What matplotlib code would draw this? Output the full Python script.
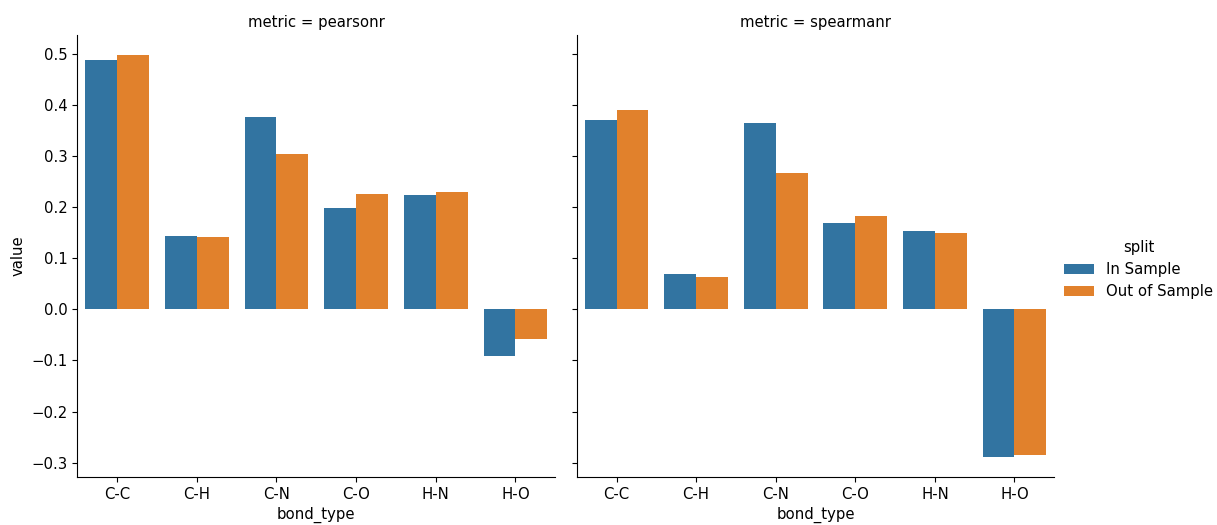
import matplotlib
matplotlib.use("Agg")
import matplotlib.pyplot as plt
import numpy as np

bond_types = ["C-C", "C-H", "C-N", "C-O", "H-N", "H-O"]
splits = ["In Sample", "Out of Sample"]
metrics = ["pearsonr", "spearmanr"]

pearson_in = [0.489, 0.144, 0.377, 0.198, 0.223, -0.092]
pearson_out = [0.497, 0.142, 0.304, 0.226, 0.229, -0.058]
spearman_in = [0.370, 0.070, 0.364, 0.169, 0.153, -0.289]
spearman_out = [0.391, 0.063, 0.266, 0.183, 0.149, -0.285]

data = {
    "pearsonr": [pearson_in, pearson_out],
    "spearmanr": [spearman_in, spearman_out],
}
colors = ["#3274a1", "#e1812c"]

plt.rcParams["font.size"] = 10.7

W, H = 1217, 525
fig = plt.figure(figsize=(W / 100, H / 100), dpi=100)
ax1 = fig.add_axes([77.3 / W, (H - 477) / H, 478 / W, 442 / H])
ax2 = fig.add_axes([576.7 / W, (H - 477) / H, 477.6 / W, 442 / H], sharey=ax1)

x = np.arange(len(bond_types))
width = 0.4
for ax, metric in zip([ax1, ax2], metrics):
    for i, (split, vals) in enumerate(zip(splits, data[metric])):
        ax.bar(x - 0.2 + i * width, vals, width=width, color=colors[i],
               label=split, linewidth=0)
    ax.set_xticks(x)
    ax.set_xticklabels(bond_types)
    ax.set_xlim(-0.5, len(bond_types) - 0.5)
    ax.set_xlabel("bond_type")
    ax.set_title(f"metric = {metric}", fontsize=10.7)
    ax.spines["top"].set_visible(False)
    ax.spines["right"].set_visible(False)

ax1.set_ylabel("value")
ax1.set_yticks([-0.3, -0.2, -0.1, 0.0, 0.1, 0.2, 0.3, 0.4, 0.5])
ax1.set_ylim(-0.328, 0.537)
plt.setp(ax2.get_yticklabels(), visible=False)

handles, labels = ax1.get_legend_handles_labels()
fig.legend(handles, labels, title="split", frameon=False,
           loc="center left", bbox_to_anchor=(1051 / W, 1 - 269.5 / H))

fig.savefig("out.png", dpi=100)
